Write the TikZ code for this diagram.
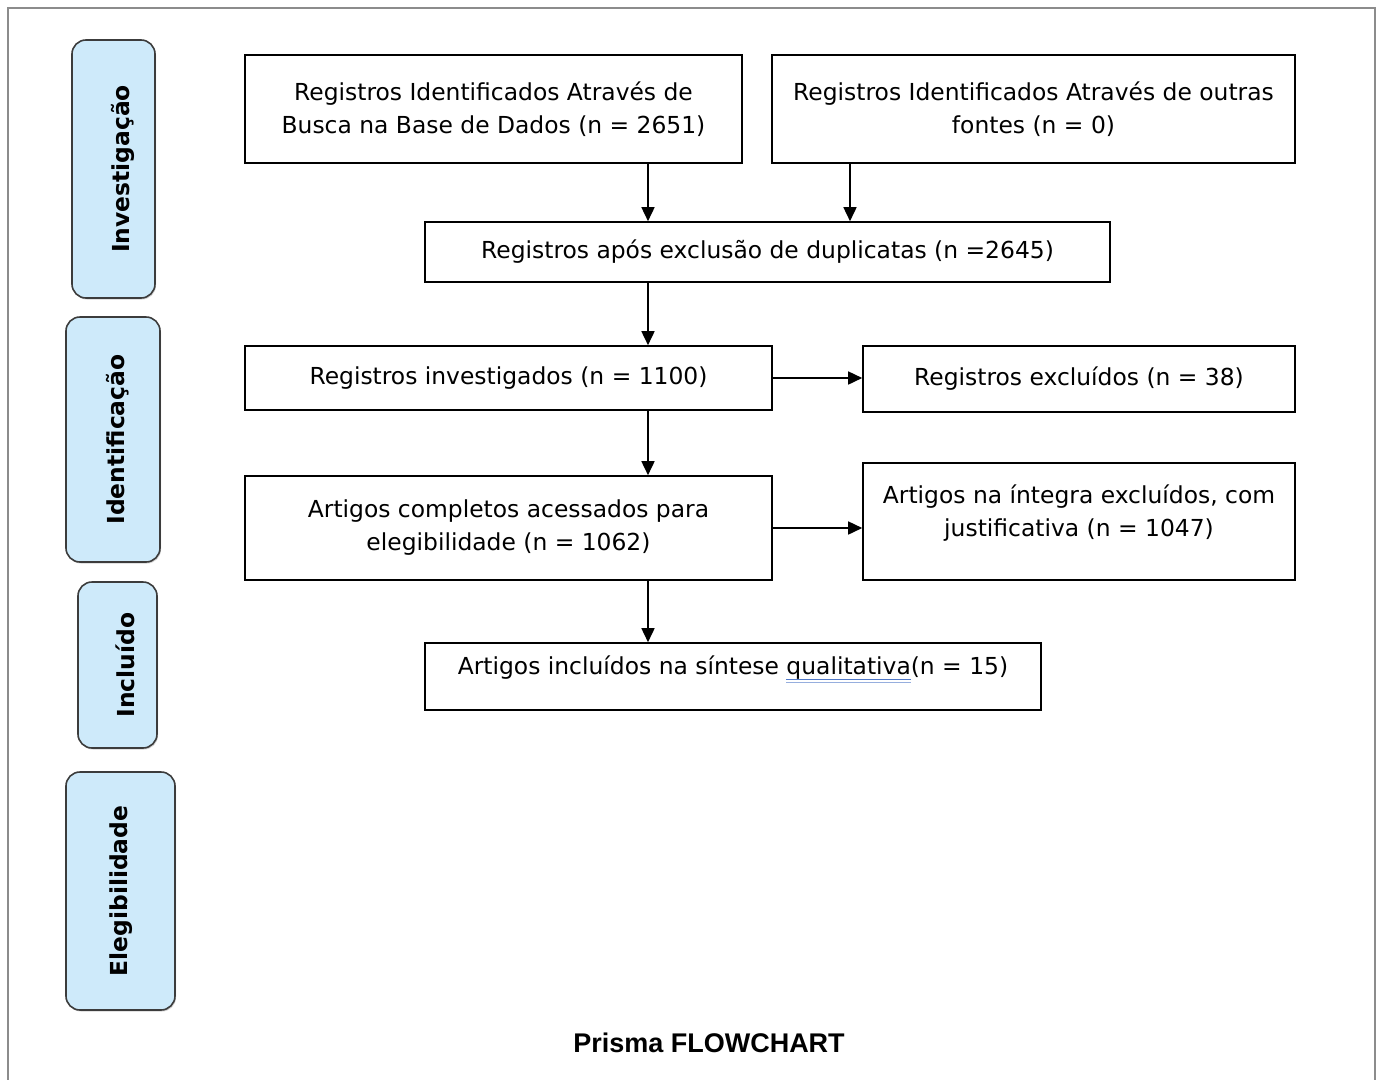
\documentclass[tikz,border=0pt]{standalone}
\usepackage{fontspec}
\setmainfont{DejaVu Sans}
\newfontfamily\titlefont{Liberation Sans}
\usetikzlibrary{arrows.meta,shadows}
\definecolor{pfBlue}{RGB}{206,234,250}
\definecolor{pfEdge}{RGB}{60,60,60}
\definecolor{pfFrame}{RGB}{140,140,140}
\definecolor{pfUnder}{RGB}{80,120,200}
\newsavebox{\gramsave}
\newcommand{\gramline}[1]{\sbox{\gramsave}{#1}%
  \rlap{\textcolor{pfUnder}{\rule[-5pt]{\wd\gramsave}{1.2pt}}}%
  \rlap{\textcolor{pfUnder!60}{\rule[-8pt]{\wd\gramsave}{1pt}}}\usebox{\gramsave}}

\begin{document}
\begin{tikzpicture}[x=1pt, y=-1pt,
  flowbox/.style={draw=black, line width=1.6pt, align=center, inner sep=0pt,
    font=\fontsize{23.4}{33}\selectfont},
  phase/.style={draw=pfEdge, fill=pfBlue, line width=1.6pt, rounded corners=14pt,
    rotate=90, inner sep=0pt, font=\bfseries\fontsize{23.4}{26}\selectfont,
    drop shadow={shadow xshift=1pt, shadow yshift=-1.5pt, opacity=.35}},
  arr/.style={-{Triangle[length=14pt,width=13pt]}, line width=1.6pt}]
  \useasboundingbox (0,0) rectangle (1378,1079);
  % outer frame
  \draw[pfFrame, line width=1.6pt] (8,1100) -- (8,8) -- (1375,8) -- (1375,1100);

  % phases on the left
  \node[phase, minimum width=258pt, minimum height=83pt, text height=38pt, text depth=6pt]
    (invest) at (113.5,169) {Investigação};
  \node[phase, minimum width=245pt, minimum height=94pt, text height=28pt, text depth=6pt]
    (ident) at (113,439.5) {Identificação};
  \node[phase, minimum width=166pt, minimum height=79pt, text height=40pt, text depth=6pt]
    (incl) at (117.5,665) {Incluído};
  \node[phase, minimum width=238pt, minimum height=109pt, text height=20pt, text depth=6pt]
    (eleg) at (120.5,891) {Elegibilidade};

  % flow boxes
  \node[flowbox, minimum width=497pt, minimum height=108pt] (base) at (493.5,109)
    {Registros Identificados Através de\\Busca na Base de Dados (n = 2651)};
  \node[flowbox, minimum width=523pt, minimum height=108pt] (outras) at (1033.5,109)
    {Registros Identificados Através de outras\\fontes (n = 0)};
  \node[flowbox, minimum width=685pt, minimum height=60pt] (dupl) at (767.5,252)
    {Registros após exclusão de duplicatas (n =2645)};
  \node[flowbox, minimum width=527pt, minimum height=64pt] (invgd) at (508.5,378)
    {Registros investigados (n = 1100)};
  \node[flowbox, minimum width=432pt, minimum height=66pt] (excl) at (1079,379)
    {Registros excluídos (n = 38)};
  \node[flowbox, minimum width=527pt, minimum height=104pt] (compl) at (508.5,528)
    {Artigos completos acessados para\\elegibilidade (n = 1062)};
  \node[flowbox, minimum width=432pt, minimum height=117pt, text depth=22pt] (integ) at (1079,521.5)
    {Artigos na íntegra excluídos, com\\justificativa (n = 1047)};
  \node[flowbox, minimum width=616pt, minimum height=67pt, text depth=22pt] (sint) at (733,676.5)
    {Artigos incluídos na síntese \gramline{qualitativa}(n = 15)};

  % connectors
  \coordinate (spine) at (648,0);
  \coordinate (side) at (850,0);
  \draw[arr] (base.south -| spine) -- (dupl.north -| spine);
  \draw[arr] (outras.south -| side) -- (dupl.north -| side);
  \draw[arr] (dupl.south -| spine) -- (invgd.north -| spine);
  \draw[arr] (invgd.south -| spine) -- (compl.north -| spine);
  \draw[arr] (compl.south -| spine) -- (sint.north -| spine);
  \draw[arr] (invgd.east) -- (invgd.east -| excl.west);
  \draw[arr] (compl.east) -- (compl.east -| integ.west);

  % caption
  \node (title) at (709,1043) {\titlefont\bfseries\fontsize{27}{30}\selectfont Prisma FLOWCHART};
\end{tikzpicture}
\end{document}
